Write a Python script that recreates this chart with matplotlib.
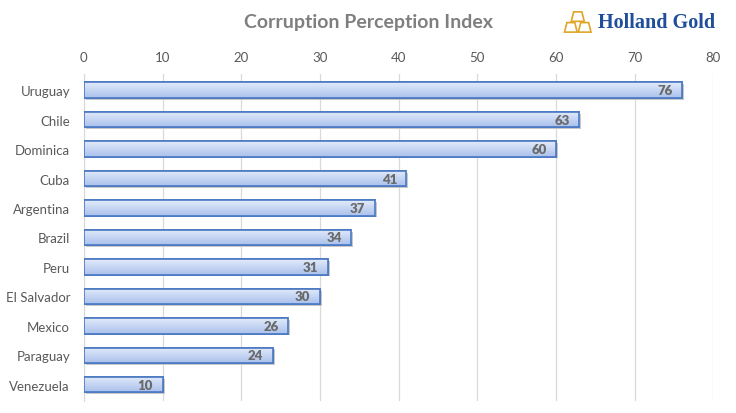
import matplotlib
matplotlib.use("Agg")
import matplotlib.pyplot as plt
from matplotlib.patches import Polygon
import numpy as np

# data
countries = ['Uruguay', 'Chile', 'Dominica', 'Cuba', 'Argentina', 'Brazil',
             'Peru', 'El Salvador', 'Mexico', 'Paraguay', 'Venezuela']
scores = [76, 63, 60, 41, 37, 34, 31, 30, 26, 24, 10]

plt.rcParams['font.family'] = ['Lato', 'DejaVu Sans']

fig = plt.figure(figsize=(7.36, 4.14), dpi=100)
ax = fig.add_axes([0.114, 0.029, 0.855, 0.79])

y = np.arange(len(countries))[::-1]

# shadow then bars
ax.barh(y - 0.06, scores, height=0.52, left=0.25, color='#c8c8c8', zorder=2)
bars = ax.barh(y, scores, height=0.52, color='#c9d8f3', edgecolor='#4a78c2',
               linewidth=1.2, zorder=3)

# gradient inside bars
grad = np.linspace(0.0, 1.0, 64).reshape(-1, 1)
cmap = matplotlib.colors.LinearSegmentedColormap.from_list('g', ['#a9c1ec', '#e3ebfa'])
for b in bars:
    x0, y0, w, h = b.get_x(), b.get_y(), b.get_width(), b.get_height()
    im = ax.imshow(grad, extent=(x0, x0 + w, y0, y0 + h), origin='lower',
                   cmap=cmap, aspect='auto', zorder=3.5)
    im.set_clip_path(b)
    ax.add_patch(plt.Rectangle((x0, y0), w, h, fill=False, edgecolor='#4a78c2',
                               linewidth=1.2, zorder=4))

for yi, s in zip(y, scores):
    ax.text(s - 1.2, yi, str(s), ha='right', va='center', fontsize=9.5,
            fontweight='heavy', color='#6a6a6a', zorder=5)

ax.set_xlim(0, 80)
ax.set_ylim(-0.55, 10.55)
ax.set_xticks(range(0, 81, 10))
ax.xaxis.tick_top()
ax.tick_params(axis='x', length=0, labelsize=9.5, labelcolor='#595959', pad=8)
ax.tick_params(axis='y', length=0, labelsize=9.5, labelcolor='#595959', pad=10)
ax.set_yticks(y)
ax.set_yticklabels(countries)
ax.grid(axis='x', color='#d9d9d9', linewidth=0.9, zorder=0)
for sp in ['top', 'right', 'bottom']:
    ax.spines[sp].set_visible(False)
ax.spines['left'].set_color('#d9d9d9')

fig.text(0.5, 0.945, 'Corruption Perception Index', ha='center', va='center',
         fontsize=14, fontweight='bold', color='#7f7f7f')

# logo
fig.text(0.812, 0.945, 'Holland Gold', ha='left', va='center', fontsize=14.5,
         fontweight='bold', color='#1f4e9a', family=['Liberation Serif', 'DejaVu Serif'])
lax = fig.add_axes([0.765, 0.915, 0.04, 0.06])
lax.set_xlim(0, 10)
lax.set_ylim(0, 6)
lax.axis('off')
gold = '#e0a526'
for pts in [[(0.5, 0.5), (4.8, 0.5), (4.0, 2.8), (1.3, 2.8)],
            [(5.2, 0.5), (9.5, 0.5), (8.7, 2.8), (6.0, 2.8)],
            [(2.8, 3.1), (7.2, 3.1), (6.4, 5.4), (3.6, 5.4)]]:
    lax.add_patch(Polygon(pts, closed=True, fill=False, edgecolor=gold, linewidth=1.2))

fig.savefig('out.png', dpi=100)
